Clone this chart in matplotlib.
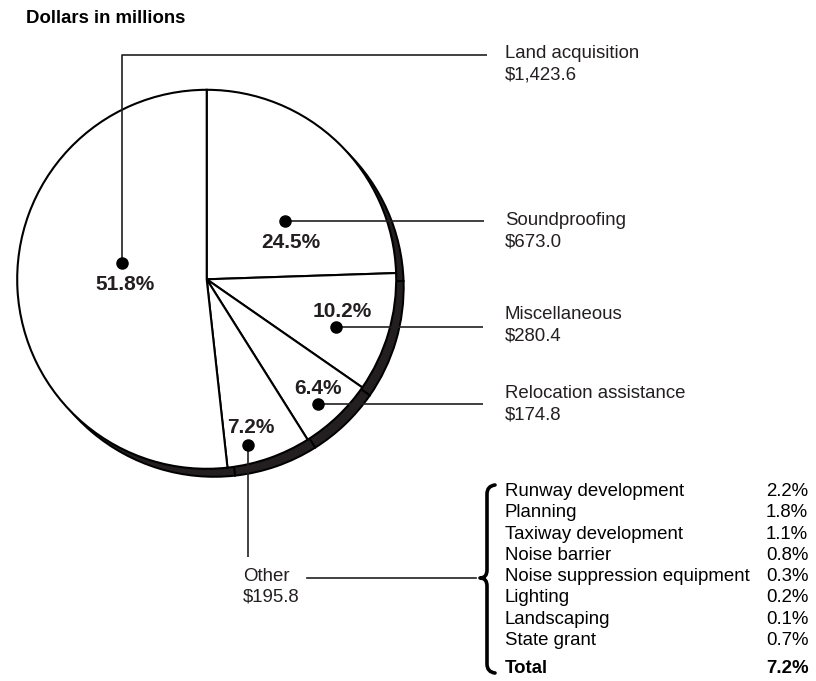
import matplotlib.pyplot as plt
from matplotlib.path import Path
from matplotlib.patches import PathPatch

plt.rcParams["font.family"] = ["Liberation Sans", "DejaVu Sans"]

INK = "#231f20"

# Pie slices, clockwise from 12 o'clock
slice_names = ["Soundproofing", "Miscellaneous", "Relocation assistance", "Other", "Land acquisition"]
slice_pct = [24.5, 10.2, 6.4, 7.2, 51.8]
slice_dollars = [673.0, 280.4, 174.8, 195.8, 1423.6]

# Breakdown of the "Other" slice
other_items = [
    "Runway development",
    "Planning",
    "Taxiway development",
    "Noise barrier",
    "Noise suppression equipment",
    "Lighting",
    "Landscaping",
    "State grant",
]
other_pct = [2.2, 1.8, 1.1, 0.8, 0.3, 0.2, 0.1, 0.7]
other_total = 7.2

# Layout (pixel coordinates, y down)
W, H = 816, 681
PIE_CENTER = (206.7, 279.3)
PIE_R = 189.5
SHADOW = (7.5, 8.0)
TEXT_SIZE = 13.4
PCT_SIZE = 15.0

# per slice: dot, percent label (center x, baseline), name label (x, baseline), leader line
slice_layout = [
    dict(dot=(285, 220.5), pct=(291, 248), name=(505, 225), leader=[(285, 220.5), (484, 220.5)]),
    dict(dot=(336, 326.5), pct=(342, 316.7), name=(505, 319.3), leader=[(336, 326.5), (483, 326.5)]),
    dict(dot=(318, 404), pct=(318, 394), name=(505, 398.3), leader=[(318, 404), (483, 404)]),
    dict(dot=(247.7, 445), pct=(251, 432.7), name=(242.7, 580.7), leader=[(247.7, 445), (247.7, 557)]),
    dict(dot=(121.7, 262.7), pct=(125, 290), name=(505, 58), leader=[(121.7, 262.7), (121.7, 55), (487, 55)]),
]
LINE_GAP = 21.2


def draw_pie(ax):
    # dark "side" of the disc, offset down-right
    ax.pie(
        slice_pct,
        startangle=-90,
        counterclock=True,
        center=(PIE_CENTER[0] + SHADOW[0], PIE_CENTER[1] + SHADOW[1]),
        radius=PIE_R,
        colors=[INK] * len(slice_pct),
        wedgeprops=dict(edgecolor="black", linewidth=1.4),
    )
    ax.pie(
        slice_pct,
        startangle=-90,
        counterclock=True,
        center=PIE_CENTER,
        radius=PIE_R,
        colors=["white"] * len(slice_pct),
        wedgeprops=dict(edgecolor="black", linewidth=1.5),
    )


def draw_labels(ax):
    for name, pct, dollars, lay in zip(slice_names, slice_pct, slice_dollars, slice_layout):
        xs, ys = zip(*lay["leader"])
        ax.plot(xs, ys, color=INK, lw=1.2, solid_capstyle="butt")
        ax.plot(*lay["dot"], "o", color="black", markersize=8)
        ax.text(*lay["pct"], "{:.1f}%".format(pct), ha="center", va="baseline",
                fontsize=PCT_SIZE, fontweight="bold", color=INK)
        x, y = lay["name"]
        ax.text(x, y, name, ha="left", va="baseline", fontsize=TEXT_SIZE, color=INK)
        ax.text(x, y + LINE_GAP, "${:,.1f}".format(dollars), ha="left", va="baseline",
                fontsize=TEXT_SIZE, color=INK, parse_math=False)


def draw_breakdown(ax):
    # connector from "Other" to the brace
    ax.plot([306.7, 476], [577.7, 577.7], color=INK, lw=1.2)

    # curly brace
    top, mid, bot = 485, 578, 673
    xs, xt, xe = 487, 480, 495
    verts = [
        (xe, top), (xs, top + 1), (xs, top + 9),
        (xs, mid - 8),
        (xs, mid), (xt, mid),
        (xs, mid), (xs, mid + 8),
        (xs, bot - 9),
        (xs, bot - 1), (xe, bot),
    ]
    codes = [
        Path.MOVETO, Path.CURVE3, Path.CURVE3,
        Path.LINETO,
        Path.CURVE3, Path.CURVE3,
        Path.CURVE3, Path.CURVE3,
        Path.LINETO,
        Path.CURVE3, Path.CURVE3,
    ]
    ax.add_patch(PathPatch(Path(verts, codes), fill=False, lw=2.6, edgecolor="black",
                           capstyle="round", joinstyle="round"))

    y0 = 496
    for i, (item, pct) in enumerate(zip(other_items, other_pct)):
        y = y0 + i * 21.3
        ax.text(505, y, item, ha="left", va="baseline", fontsize=TEXT_SIZE, color="black")
        ax.text(766, y, "{:.1f}%".format(pct), ha="left", va="baseline",
                fontsize=TEXT_SIZE, color="black")
    ax.text(505, 673, "Total", ha="left", va="baseline", fontsize=TEXT_SIZE,
            fontweight="bold", color="black")
    ax.text(766, 673, "{:.1f}%".format(other_total), ha="left", va="baseline",
            fontsize=TEXT_SIZE, fontweight="bold", color="black")


fig = plt.figure(figsize=(W / 100, H / 100), dpi=100)
ax = fig.add_axes([0, 0, 1, 1])

draw_pie(ax)
draw_labels(ax)
draw_breakdown(ax)

ax.text(26, 22.7, "Dollars in millions", ha="left", va="baseline",
        fontsize=TEXT_SIZE, fontweight="bold", color="black")

ax.set_xlim(0, W)
ax.set_ylim(H, 0)
ax.set_aspect("equal")
ax.axis("off")

plt.savefig("out.png", dpi=100)
